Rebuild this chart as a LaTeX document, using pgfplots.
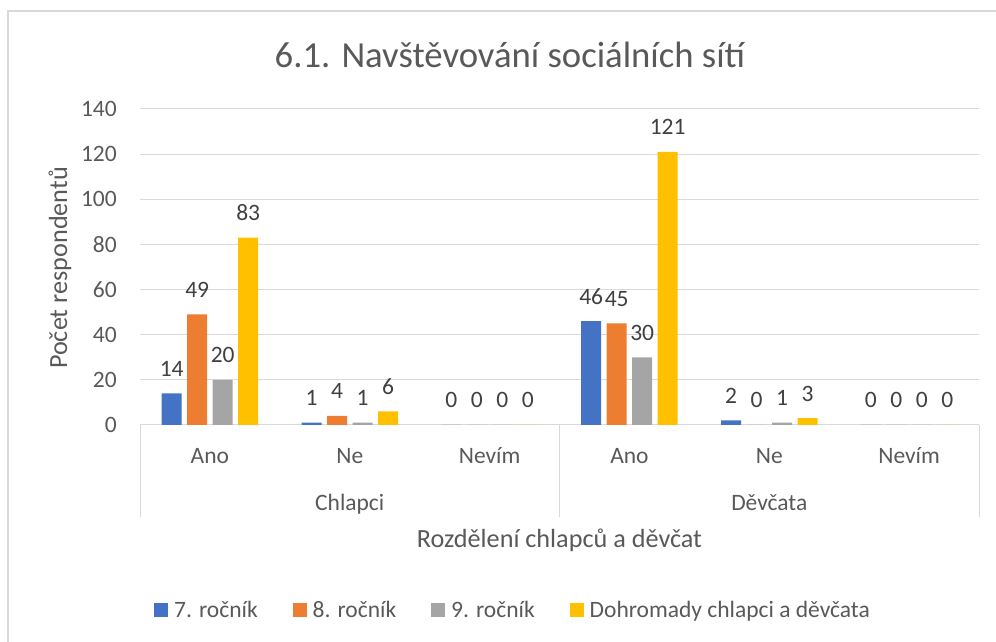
\documentclass[border=0pt]{standalone}
\usepackage{pgfplots}
\pgfplotsset{compat=1.18}
\usepackage{fontspec}
\setmainfont{Carlito}
\definecolor{c1}{HTML}{4472C4}
\definecolor{c2}{HTML}{ED7D31}
\definecolor{c3}{HTML}{A5A5A5}
\definecolor{c4}{HTML}{FFC000}
\definecolor{txt}{HTML}{595959}
\definecolor{lbl}{HTML}{404040}
\definecolor{grd}{HTML}{D9D9D9}
\newcommand{\bodyfont}{\fontsize{23.5}{28}\selectfont}
\newcommand{\axtfont}{\fontsize{26.2}{30}\selectfont}
\begin{document}
\begin{tikzpicture}[x=1pt,y=1pt]
\useasboundingbox (0,0) rectangle (996,642);
\draw[grd, line width=1.3pt] (8,0) -- (8,631) -- (996,631);
\node[txt, font=\fontsize{36.7}{40}\selectfont, anchor=base] at (510,574) {6.1. Navštěvování sociálních sítí};
\node[txt, font=\axtfont, rotate=90, anchor=base] at (67,374) {Počet respondentů};
\begin{axis}[
  at={(140pt,217pt)}, anchor=south west,
  width=839pt, height=316pt, scale only axis,
  xmin=-0.5, xmax=5.5, ymin=0, ymax=140,
  ytick={0,20,...,140},
  xtick={0,...,5},
  xticklabels={Ano,Ne,Nevím,Ano,Ne,Nevím},
  ymajorgrids, grid style={grd, line width=1pt},
  axis x line*=bottom, axis y line*=left,
  y axis line style={draw=none},
  x axis line style={grd, line width=1pt, -},
  major tick length=0pt,
  tick style={draw=none},
  /pgf/number format/assume math mode=true,
  ticklabel style={font=\bodyfont, text=txt},
  xticklabel style={anchor=base, inner sep=0pt, yshift=-38.5pt},
  yticklabel style={anchor=east, inner sep=0pt, xshift=-23pt},
  ybar=5.5pt, bar width=20pt,
  nodes near coords,
  nodes near coords style={font=\bodyfont, text=lbl, inner sep=0pt, anchor=base, yshift=17pt},
  clip=false,
  legend columns=4,
  legend style={at={(0.4434,-0.5854)}, anchor=center, draw=none, fill=none,
    font=\bodyfont, text=txt, nodes={inner sep=0pt},
    /tikz/every odd column/.append style={column sep=6pt},
    /tikz/every even column/.append style={column sep=35pt}},
  legend image code/.code={\fill[#1] (0pt,-7pt) rectangle (14pt,7pt);},
]
\addplot[fill=c1, draw=none] coordinates {(0,14) (1,1) (2,0) (3,46) (4,2) (5,0)};
\addplot[fill=c2, draw=none] coordinates {(0,49) (1,4) (2,0) (3,45) (4,0) (5,0)};
\addplot[fill=c3, draw=none] coordinates {(0,20) (1,1) (2,0) (3,30) (4,1) (5,0)};
\addplot[fill=c4, draw=none] coordinates {(0,83) (1,6) (2,0) (3,121) (4,3) (5,0)};
\legend{7. ročník, 8. ročník, 9. ročník, Dohromady chlapci a děvčata}
\draw[grd, line width=1pt] (axis cs:-0.5,0) -- ++(0pt,-92pt);
\draw[grd, line width=1pt] (axis cs:2.5,0) -- ++(0pt,-92pt);
\draw[grd, line width=1pt] (axis cs:5.5,0) -- ++(0pt,-92pt);
\node[txt, font=\bodyfont, anchor=base] at (axis cs:1,0) [yshift=-85.5pt] {Chlapci};
\node[txt, font=\bodyfont, anchor=base] at (axis cs:4,0) [yshift=-85.5pt] {Děvčata};
\node[txt, font=\axtfont, anchor=base] at (axis cs:2.5,0) [yshift=-122pt] {Rozdělení chlapců a děvčat};
\end{axis}
\end{tikzpicture}
\end{document}
